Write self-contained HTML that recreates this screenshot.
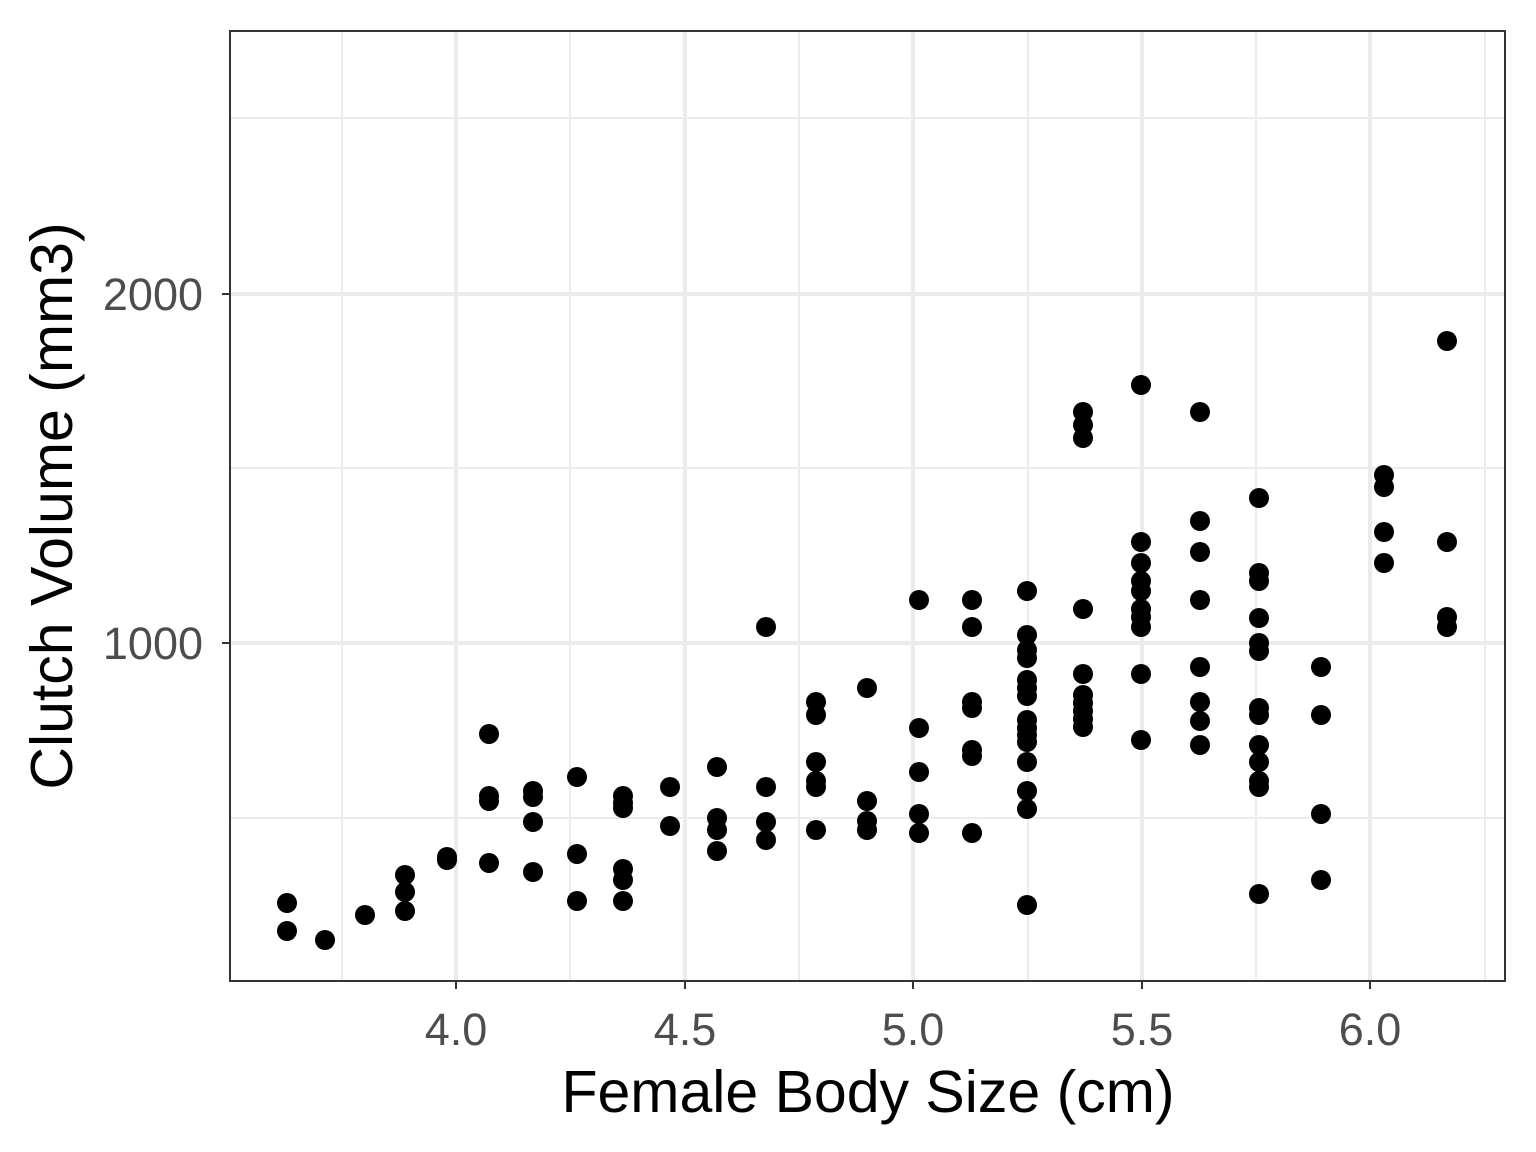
<!DOCTYPE html>
<html><head><meta charset="utf-8"><style>
html,body{margin:0;padding:0;background:#fff;}
svg{display:block;}
text{font-family:"Liberation Sans",Arial,sans-serif;}
</style></head><body>
<svg width="1536" height="1152" viewBox="0 0 1536 1152" xmlns="http://www.w3.org/2000/svg">
<rect width="1536" height="1152" fill="#fff"/>
<g stroke="#ebebeb" stroke-width="2">
<line x1="342" y1="31" x2="342" y2="981"/><line x1="570" y1="31" x2="570" y2="981"/><line x1="799" y1="31" x2="799" y2="981"/><line x1="1028" y1="31" x2="1028" y2="981"/><line x1="1256" y1="31" x2="1256" y2="981"/><line x1="1485" y1="31" x2="1485" y2="981"/>
<line x1="230" y1="118" x2="1505" y2="118"/><line x1="230" y1="468" x2="1505" y2="468"/><line x1="230" y1="818" x2="1505" y2="818"/>
</g>
<g stroke="#ebebeb" stroke-width="4">
<line x1="456" y1="31" x2="456" y2="981"/><line x1="685" y1="31" x2="685" y2="981"/><line x1="913" y1="31" x2="913" y2="981"/><line x1="1142" y1="31" x2="1142" y2="981"/><line x1="1370" y1="31" x2="1370" y2="981"/>
<line x1="230" y1="294" x2="1505" y2="294"/><line x1="230" y1="643" x2="1505" y2="643"/>
</g>
<g fill="#000" id="pts"></g>
<rect x="230" y="31" width="1275" height="950" fill="none" stroke="#333" stroke-width="2"/>
<g stroke="#333" stroke-width="2">
<line x1="456" y1="981" x2="456" y2="989"/><line x1="685" y1="981" x2="685" y2="989"/><line x1="913" y1="981" x2="913" y2="989"/><line x1="1142" y1="981" x2="1142" y2="989"/><line x1="1370" y1="981" x2="1370" y2="989"/>
<line x1="222" y1="294" x2="230" y2="294"/><line x1="222" y1="643" x2="230" y2="643"/>
</g>
<g fill="#4d4d4d" style="font-size:45px" text-anchor="middle">
<text x="456" y="1045">4.0</text><text x="685" y="1045">4.5</text><text x="913" y="1045">5.0</text><text x="1142" y="1045">5.5</text><text x="1370" y="1045">6.0</text>
</g>
<g fill="#4d4d4d" style="font-size:45px" text-anchor="end">
<text x="203" y="310">2000</text><text x="203" y="659">1000</text>
</g>
<text x="868" y="1112" style="font-size:59px" text-anchor="middle" fill="#000">Female Body Size (cm)</text>
<text transform="translate(72,506) rotate(-90)" style="font-size:59px" text-anchor="middle" fill="#000">Clutch Volume (mm3)</text>
</svg>
<script>
var d={287:[903,931],325:[940],365:[915],405:[875,892,911],447:[857,860],489:[734,796,801,863],533:[791,797,822,872],577:[777,854,901],623:[796,803,808,869,880,901],670:[787,826],717:[767,818,830,851],766:[627,787,822,840],816:[702,715,762,781,787,830],867:[688,801,821,830],919:[600,728,772,814,833],972:[600,627,702,708,750,756,833],1027:[591,635,650,658,680,688,696,720,728,735,742,762,791,809,905],1083:[412,425,438,609,674,695,703,711,719,727],1141:[385,542,563,581,591,609,617,627,674,740],1200:[412,521,552,600,667,702,721,745],1259:[498,573,581,618,643,651,708,715,745,762,781,787,894],1321:[667,715,814,880],1384:[475,487,532,563],1447:[341,542,617,627]};
var g=document.getElementById('pts'),s='';
for(var x in d){d[x].forEach(function(y){s+='<circle cx="'+x+'" cy="'+y+'" r="10"/>';});}
g.innerHTML=s;
</script>
</body></html>
